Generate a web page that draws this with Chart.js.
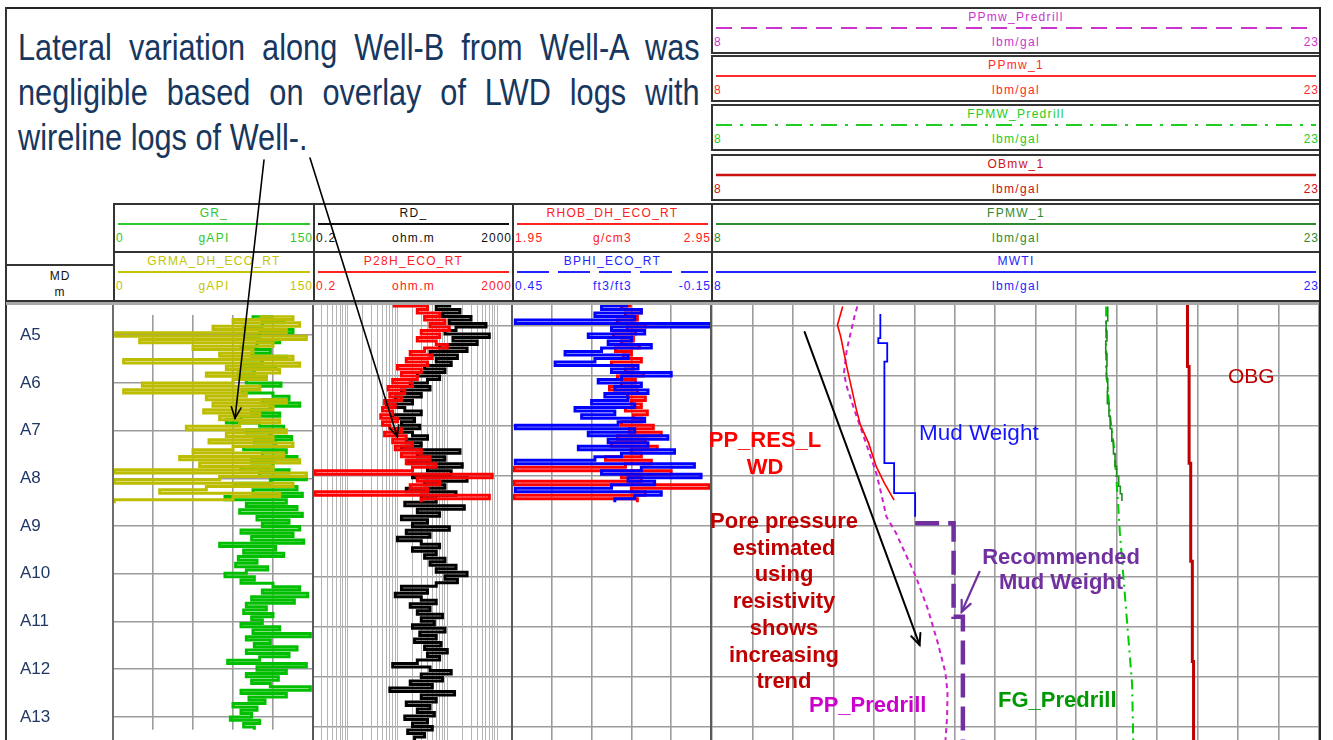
<!DOCTYPE html>
<html>
<head>
<meta charset="utf-8">
<script src="https://cdn.jsdelivr.net/npm/chart.js@4.4.1/dist/chart.umd.min.js"></script>
<style>
  body { margin: 0; background: #fff; }
  #page { position: relative; width: 1333px; height: 740px; overflow: hidden; background: #fff;
          font-family: "Liberation Sans", Arial, sans-serif; }
  .abs { position: absolute; }
  .box { position: absolute; box-sizing: border-box; border: 2px solid #333; background: #fff; }
  .hname { position: absolute; left: 0; right: 0; top: 1px; text-align: center; font-size: 12px;
           line-height: 14px; letter-spacing: 1.3px; white-space: nowrap; }
  .hval { position: absolute; top: 26px; font-size: 12px; line-height: 14px; letter-spacing: 1.3px; white-space: nowrap; }
  .note { position: absolute; left: 18px; font-family: "Liberation Sans", Arial, sans-serif;
          font-size: 37px; line-height: 45px; color: #17375E; white-space: nowrap;
          transform: scaleX(0.83); transform-origin: 0 0; }
  .ann { position: absolute; white-space: nowrap; font-family: "Liberation Sans", Arial, sans-serif; }
  .annc { position: absolute; text-align: center; white-space: nowrap; font-family: "Liberation Sans", Arial, sans-serif; font-weight: bold; }
  canvas { position: absolute; }
</style>
</head>
<body>
<div id="page">
  <!-- frame of the note panel and the depth column -->
  <div class="abs" style="left:5px;top:7px;width:707px;height:2px;background:#222"></div>
  <div class="abs" style="left:5px;top:7px;width:2px;height:733px;background:#333"></div>

  <span class="note jline" style="top:25px">Lateral variation along Well-B from Well-A was</span>
  <span class="note jline" style="top:70px">negligible based on overlay of LWD logs with</span>
  <span class="note" style="top:115px">wireline logs of Well-.</span>

  <div id="hdr"></div>

  <canvas id="cGR" width="306" height="435" style="left:7px;top:305px"></canvas>
  <canvas id="cRD" width="199" height="435" style="left:313px;top:305px"></canvas>
  <canvas id="cRH" width="199" height="435" style="left:512px;top:305px"></canvas>
  <canvas id="cPP" width="607" height="435" style="left:712px;top:305px"></canvas>

  <!-- header / track separators -->
  <div class="abs" style="left:6px;top:300px;width:1315px;height:2px;background:#333"></div>
  <div class="abs" style="left:6px;top:302px;width:1315px;height:3px;background:#a9a9a9"></div>
  <div class="abs" style="left:112px;top:305px;width:2px;height:435px;background:#6d6d6d"></div>
  <div class="abs" style="left:312px;top:305px;width:2px;height:435px;background:#5a5a5a"></div>
  <div class="abs" style="left:511px;top:305px;width:2px;height:435px;background:#5a5a5a"></div>
  <div class="abs" style="left:710px;top:305px;width:2px;height:435px;background:#5a5a5a"></div>
  <div class="abs" style="left:1319px;top:7px;width:2px;height:733px;background:#222"></div>

  <!-- annotations in the pressure track -->
  <div class="ann" style="left:1228px;top:363px;font-size:21px;line-height:26px;color:#C00000">OBG</div>
  <div class="ann" style="left:919px;top:420px;font-size:22.5px;line-height:26px;color:#1414FF">Mud Weight</div>
  <div class="annc" style="left:690px;width:150px;top:427px;font-size:22px;line-height:26.5px;color:#FF0000">PP_RES_L<br>WD</div>
  <div class="annc" style="left:694px;width:180px;top:508px;font-size:22px;line-height:26.7px;color:#C00000">Pore pressure<br>estimated<br>using<br>resistivity<br>shows<br>increasing<br>trend</div>
  <div class="annc" style="left:971px;width:180px;top:544px;font-size:22px;line-height:25px;color:#7030A0">Recommended<br>Mud Weight</div>
  <div class="ann" style="left:809px;top:692px;font-size:22px;line-height:26px;font-weight:bold;color:#CC00CC">PP_Predrill</div>
  <div class="ann" style="left:998px;top:687px;font-size:22px;line-height:26px;font-weight:bold;color:#009A00">FG_Predrill</div>

  <canvas id="ov" width="1333" height="740" style="left:0;top:0;pointer-events:none"></canvas>
</div>

<script>
// ---------------- measured depth index (shared by all logs) ----------------
const DEPTH = [4.60,4.67,4.74,4.81,4.88,4.95,5.02,5.09,5.16,5.23,5.30,5.37,5.44,5.51,5.58,5.65,5.72,5.79,5.86,5.93,
  6.00,6.07,6.14,6.21,6.28,6.35,6.42,6.49,6.56,6.63,6.70,6.77,6.84,6.91,6.98,7.05,7.12,7.19,7.26,7.33,
  7.40,7.47,7.54,7.61,7.68,7.75,7.82,7.89,7.96,8.03,8.10,8.17,8.24,8.31,8.38,8.45,8.52,8.59,8.66,8.73,
  8.80,8.87,8.94,9.01,9.08,9.15,9.22,9.29,9.36,9.43,9.50,9.57,9.64,9.71,9.78,9.85,9.92,9.99,10.06,10.13,
  10.20,10.27,10.34,10.41,10.48,10.55,10.62,10.69,10.76,10.83,10.90,10.97,11.04,11.11,11.18,11.25,11.32,11.39,11.46,11.53,
  11.60,11.67,11.74,11.81,11.88,11.95,12.02,12.09,12.16,12.23,12.30,12.37,12.44,12.51,12.58,12.65,12.72,12.79,12.86,12.93,
  13.00,13.07,13.14,13.21,13.28];
const DEPTH_TOP = 4.58;
const DEPTH_BASE = 13.27;
const DEPTH_TICKS = [5, 6, 7, 8, 9, 10, 11, 12, 13];
const DEPTH_LABELS = ['A5', 'A6', 'A7', 'A8', 'A9', 'A10', 'A11', 'A12', 'A13'];

// ---------------- gamma ray (gAPI) ----------------
const GR = [120,105,128,112,98,135,110,100,125,108, 96,118,104,130,112,98,122,106,94,115,
  100,126,110,97,120,132,112,140,118,104, 125,96,85,110,128,100,118,134,106,122,
  98,130,112,138,104,120,96,132,110,145, 118,92,138,105,142,84,130,
  100,138,95,142,108,132,112,140,96,135, 104,143,80,122,98,128,94,108,92,116,
  100,84,106,96,120,140,112,146,104,136, 100,115,98,120,104,112,96,125,105,148,
  100,118,106,138,100,132,110,86,145,108, 130,100,124,104,118,148,96,130,102,114,
  90,108,96,104,88,110,98,106];
const GRMA = [110,135,90,140,75,130,2,145,20,120, 60,105,80,135,8,140,85,125,70,115,
  90,22,110,8,100,70,130,75,120,68, 110,80,125,95,55,130,85,120,72,135,
  90,60,128,50,140,65,120,1,145,80, 1,135,70,35,125,90,1];

// ---------------- resistivity (ohm.m) ----------------
const RD = [120,60,180,80,300,110,600,150,90,700, 130,400,70,250,45,160,60,120,35,90,
  25,70,40,18,45,12,30,9,20,6, 14,30,8,22,12,28,9,20,40,15,
  30,12,180,25,90,16,200,40,120,20, 250,35,90,15,150,30,60,
  14,220,25,70,12,40,20,110,15,45, 10,30,70,20,60,35,90,45,150,60,
  250,90,160,60,12,40,9,30,60,18, 45,25,80,30,55,20,90,28,60,22,
  75,35,100,40,70,25,8,45,120,30, 80,18,50,7,140,30,60,15,45,25,
  55,14,40,20,50,16,35,22];
const P28H = [8,40,25,70,35,90,45,110,30,70, 25,60,100,35,18,50,15,40,10,30,
  12,25,8,20,6.5,14,7,12,5.5,9, 5,8,4.6,10,5,7,12,5.5,15,8,
  20,9,30,12,45,15,60,20,0.22,800, 25,70,18,40,0.22,700,30];

// ---------------- density (g/cm3) and neutron porosity (ft3/ft3) ----------------
const RHOB = [2.55,2.50,2.60,2.52,2.58,2.48,2.62,2.53,2.57,2.46, 2.56,2.50,2.59,2.47,2.55,2.51,2.60,2.45,2.56,2.52,
  2.61,2.48,2.57,2.50,2.44,2.58,2.53,2.62,2.55,2.60, 2.52,2.63,2.56,2.60,2.50,2.66,2.54,2.70,2.48,2.62,
  2.45,2.68,2.55,2.60,2.42,2.65,2.52,1.96,2.75,2.50, 2.60,1.96,2.94,2.55,2.62,1.96,2.58];
const BPHI = [0.10,0.18,0.06,0.20,0.08,0.44,-0.15,0.15,0.05,0.22, 0.09,0.16,0.03,0.18,0.29,0.10,0.20,0.32,0.07,0.15,
  -0.03,0.12,0.19,0.06,0.14,0.04,0.17,0.10,0.21,0.08, 0.26,0.14,0.24,0.05,0.13,0.44,0.08,0.22,-0.02,0.16,
  0.04,0.25,-0.04,0.12,0.20,0.44,-0.10,0.06,0.18,-0.12, 0.10,0.02,0.15,0.44,0.00,0.08,0.14];

// ---------------- pressure profiles (lbm/gal) with their depths ----------------
const PP_PRE_MW = [11.59,11.52,11.33,11.26,11.33,11.52,11.72,11.92,12.06,12.18,12.31,12.55,13.04,13.34,13.58,13.77,13.82,13.81,13.77];
const PP_PRE_MD = [4.61,4.81,5.48,5.94,6.21,6.68,7.14,7.61,7.94,8.34,8.81,9.14,10.01,10.67,11.33,11.93,12.33,12.80,13.27];
const PP1_MW = [11.23,11.10,11.18,11.33,11.57,11.67,11.87,12.06,12.26,12.50];
const PP1_MD = [4.61,4.98,5.21,5.81,6.68,6.98,7.34,7.81,8.14,8.48];
const MWTI_MW = [12.16,12.16,12.11,12.33,12.26,12.50,13.02,13.02];
const MWTI_MD = [4.76,5.21,5.24,5.34,5.71,7.74,8.34,8.81];
const REC_MW = [13.02,13.97,14.20,14.20];
const REC_MD = [8.94,8.94,10.81,13.27];
const FPMW1_MW = [17.78,17.74,17.76,17.73,17.76,17.75,17.78,17.77,17.81,17.84,17.88,17.92,17.96,18.00,18.05,18.09,18.13,18.15];
const FPMW1_MD = [4.61,4.90,5.10,5.30,5.55,5.80,6.05,6.30,6.55,6.80,7.05,7.30,7.55,7.80,8.00,8.20,8.35,8.48];
const FG_PRE_MW = [17.74,17.74,17.84,17.94,18.03,18.08,18.18,18.28,18.38,18.41];
const FG_PRE_MD = [4.61,5.90,6.81,7.48,8.48,9.14,10.14,11.14,12.14,13.27];
const OB_MW = [19.75,19.79,19.83,19.87,19.90,19.90];
const OB_MD = [4.58,5.81,7.74,9.70,11.70,13.27];

// ---------------- track grids ----------------
const GR_GRID = [0, 30, 60, 90, 120, 150];
const RD_GRID = [0.2,0.3,0.4,0.5,0.6,0.7,0.8,0.9,1,2,3,4,5,6,7,8,9,10,20,30,40,50,60,70,80,90,
  100,200,300,400,500,600,700,800,900,1000,2000];
const RHOB_GRID = [1.95, 2.15, 2.35, 2.55, 2.75, 2.95];
const MW_GRID = [8,9,10,11,12,13,14,15,16,17,18,19,20,21,22,23];

// ---------------- header curve legends ----------------
const UPPER_LEGENDS = [
  ['PPmw_Predrill', 'lbm/gal', '8', '23', '#CC33CC', [16, 9]],
  ['PPmw_1', 'lbm/gal', '8', '23', '#FF2A2A', null],
  ['FPMW_Predrill', 'lbm/gal', '8', '23', '#22CC22', [16, 8, 3, 8]],
  ['OBmw_1', 'lbm/gal', '8', '23', '#CC1111', null]
];
const TRACK_LEGENDS = [
  [['GR_', 'gAPI', '0', '150', '#2DC82D', null], ['GRMA_DH_ECO_RT', 'gAPI', '0', '150', '#C4C400', null]],
  [['RD_', 'ohm.m', '0.2', '2000', '#111111', null], ['P28H_ECO_RT', 'ohm.m', '0.2', '2000', '#FF2020', null]],
  [['RHOB_DH_ECO_RT', 'g/cm3', '1.95', '2.95', '#FF2020', null], ['BPHI_ECO_RT', 'ft3/ft3', '0.45', '-0.15', '#2424FF', [32, 9]]],
  [['FPMW_1', 'lbm/gal', '8', '23', '#2E8B2E', null], ['MWTI', 'lbm/gal', '8', '23', '#2424FF', null]]
];

// ---------------- header layout ----------------
const hdr = document.getElementById('hdr');
function legendCell(x, y, w, h, spec, lineW) {
  const [name, unit, lo, hi, color, dash] = spec;
  const el = document.createElement('div');
  el.className = 'box';
  Object.assign(el.style, { left: x + 'px', top: y + 'px', width: w + 'px', height: h + 'px' });
  const nm = document.createElement('div');
  nm.className = 'hname'; nm.style.color = color; nm.textContent = name;
  el.appendChild(nm);
  const ns = 'http://www.w3.org/2000/svg';
  const svg = document.createElementNS(ns, 'svg');
  const lw = w - 10;
  svg.setAttribute('width', lw); svg.setAttribute('height', 4);
  Object.assign(svg.style, { position: 'absolute', left: '3px', top: '17px' });
  const ln = document.createElementNS(ns, 'line');
  ln.setAttribute('x1', 0); ln.setAttribute('x2', lw); ln.setAttribute('y1', 2); ln.setAttribute('y2', 2);
  ln.setAttribute('stroke', color); ln.setAttribute('stroke-width', lineW || 2);
  if (dash) ln.setAttribute('stroke-dasharray', dash.join(' '));
  svg.appendChild(ln); el.appendChild(svg);
  const mk = (txt, css) => { const s = document.createElement('span'); s.className = 'hval'; s.style.color = color; s.textContent = txt; Object.assign(s.style, css); el.appendChild(s); return s; };
  mk(lo, { left: '1px' });
  mk(unit, { left: '50%', transform: 'translateX(-50%)' });
  mk(hi, { right: '0px', letterSpacing: '1px' });
  hdr.appendChild(el);
}
const TRACK_X = [113, 313, 512, 711, 1321];
const UPPER_Y = [7, 55, 104, 154];
UPPER_LEGENDS.forEach((spec, i) => legendCell(711, UPPER_Y[i], 610, 47, spec, spec[0] === 'OBmw_1' ? 2.6 : 2));
TRACK_LEGENDS.forEach((pair, c) => {
  const x0 = TRACK_X[c], w = TRACK_X[c + 1] - x0 + (c === 3 ? 0 : 2);
  legendCell(x0, 203, w, 50, pair[0]);
  legendCell(x0, 251, w, 51, pair[1]);
});
// depth column header
(function () {
  const el = document.createElement('div');
  el.className = 'box';
  Object.assign(el.style, { left: '5px', top: '264px', width: '110px', height: '38px', fontSize: '12px', lineHeight: '16px',
    textAlign: 'center', color: '#111', letterSpacing: '1px', paddingTop: '2px' });
  el.innerHTML = 'MD<br>m';
  hdr.appendChild(el);
})();

// justify the first two note lines across the panel (text is drawn condensed)
document.querySelectorAll('.jline').forEach(el => {
  const target = 682 / 0.83;
  const natural = el.offsetWidth;
  const gaps = el.textContent.split(' ').length - 1;
  el.style.wordSpacing = ((target - natural) / gaps) + 'px';
});

// ---------------- charts ----------------
const pts = (vals, depths) => vals.map((v, i) => ({ x: v, y: depths[i] }));

function depthAxis(showLabels) {
  return {
    type: 'linear', reverse: true, min: DEPTH_TOP, max: DEPTH_BASE, position: 'left',
    afterBuildTicks: s => { s.ticks = DEPTH_TICKS.map(v => ({ value: v })); },
    afterFit: s => { s.width = showLabels ? 93 : 0; },
    border: { display: false },
    grid: { color: '#9c9c9c', lineWidth: 1.6, drawTicks: false },
    ticks: showLabels ? {
      display: true, crossAlign: 'far', padding: 0, color: '#1F3864',
      font: { family: 'Liberation Sans', size: 17 },
      callback: (v, i) => DEPTH_LABELS[i]
    } : { display: false }
  };
}
function valueAxis(extra, grid) {
  return Object.assign({
    type: 'linear', position: 'top',
    afterBuildTicks: s => { if (grid) s.ticks = grid.map(v => ({ value: v })); },
    afterFit: s => { s.height = 0; },
    border: { display: false },
    ticks: { display: false },
    grid: grid ? { color: '#9c9c9c', lineWidth: 1.6, drawTicks: false } : { display: false, drawTicks: false }
  }, extra);
}
function baseOptions(scales, padLeft) {
  return {
    responsive: false, animation: false, devicePixelRatio: 1, events: [],
    layout: { padding: { left: padLeft || 0, right: 0, top: 0, bottom: 0 } },
    plugins: { legend: { display: false }, tooltip: { enabled: false } },
    elements: { point: { radius: 0 }, line: { tension: 0 } },
    scales
  };
}
// log curves are drawn as blocky steps, one sample per bar
function logLine(data, color, extra) {
  return Object.assign({ data, borderColor: color, borderWidth: 3.0, stepped: true, fill: false,
    pointRadius: 0, borderJoinStyle: 'miter', borderCapStyle: 'butt' }, extra || {});
}

Chart.defaults.font.family = 'Liberation Sans';

const chGR = new Chart(document.getElementById('cGR'), {
  type: 'line',
  data: { datasets: [
    logLine(pts(GRMA, DEPTH), '#BDBD00'),
    logLine(pts(GR, DEPTH), '#00BF00')
  ] },
  options: baseOptions({ y: depthAxis(true), x: valueAxis({ min: 0, max: 150 }, GR_GRID) }, 13)
});

const chRD = new Chart(document.getElementById('cRD'), {
  type: 'line',
  data: { datasets: [
    logLine(pts(P28H, DEPTH), '#FF0000'),
    logLine(pts(RD, DEPTH), '#000000')
  ] },
  options: baseOptions({
    y: depthAxis(false),
    x: valueAxis({ type: 'logarithmic', min: 0.2, max: 2000,
      grid: { color: '#b4b4b4', lineWidth: 1, drawTicks: false } }, RD_GRID)
  })
});

const chRH = new Chart(document.getElementById('cRH'), {
  type: 'line',
  data: { datasets: [
    logLine(pts(BPHI, DEPTH), '#0000FF', { xAxisID: 'x2' }),
    logLine(pts(RHOB, DEPTH), '#FF0000', { xAxisID: 'x' })
  ] },
  options: baseOptions({
    y: depthAxis(false),
    x: valueAxis({ min: 1.95, max: 2.95 }, RHOB_GRID),
    x2: valueAxis({ min: -0.15, max: 0.45, reverse: true }, null)
  })
});

const chPP = new Chart(document.getElementById('cPP'), {
  type: 'line',
  data: { datasets: [
    { data: pts(REC_MW, REC_MD), borderColor: '#7030A0', borderWidth: 4.5, borderDash: [24, 9], stepped: 'after' },
    { data: pts(MWTI_MW, MWTI_MD), borderColor: '#0000FF', borderWidth: 1.8, stepped: 'after' },
    { data: pts(PP1_MW, PP1_MD), borderColor: '#FF0000', borderWidth: 1.6 },
    { data: pts(PP_PRE_MW, PP_PRE_MD), borderColor: '#CC22CC', borderWidth: 2, borderDash: [5, 4] },
    { data: pts(FPMW1_MW, FPMW1_MD), borderColor: '#1E8C1E', borderWidth: 1.6, stepped: 'after' },
    { data: pts(FG_PRE_MW, FG_PRE_MD), borderColor: '#00CC00', borderWidth: 2, borderDash: [10, 5, 2, 5] },
    { data: pts(OB_MW, OB_MD), borderColor: '#C00000', borderWidth: 3, stepped: 'after' }
  ] },
  options: baseOptions({ y: depthAxis(false), x: valueAxis({ min: 8, max: 23 }, MW_GRID) })
});

// ---------------- callout arrows ----------------
function at(chart, axis, v, d) {
  return [chart.canvas.offsetLeft + chart.scales[axis].getPixelForValue(v),
          chart.canvas.offsetTop + chart.scales.y.getPixelForValue(d)];
}
function arrow(ctx, p0, p1, color, w) {
  ctx.strokeStyle = color; ctx.lineWidth = w; ctx.lineCap = 'round';
  ctx.beginPath(); ctx.moveTo(p0[0], p0[1]); ctx.lineTo(p1[0], p1[1]); ctx.stroke();
  const a = Math.atan2(p1[1] - p0[1], p1[0] - p0[0]), L = 12, s = 0.42;
  ctx.beginPath();
  ctx.moveTo(p1[0] - L * Math.cos(a - s), p1[1] - L * Math.sin(a - s));
  ctx.lineTo(p1[0], p1[1]);
  ctx.lineTo(p1[0] - L * Math.cos(a + s), p1[1] - L * Math.sin(a + s));
  ctx.stroke();
}
const ov = document.getElementById('ov').getContext('2d');
arrow(ov, [264, 160], at(chGR, 'x', 91.5, 6.74), '#000', 1.6);
arrow(ov, [310, 158], at(chRD, 'x', 9.9, 7.21), '#000', 1.6);
arrow(ov, at(chPP, 'x', 10.29, 5.12), at(chPP, 'x', 13.13, 11.37), '#000', 2);
arrow(ov, at(chPP, 'x', 14.61, 9.91), at(chPP, 'x', 14.17, 10.71), '#7030A0', 2.2);
</script>
</body>
</html>
